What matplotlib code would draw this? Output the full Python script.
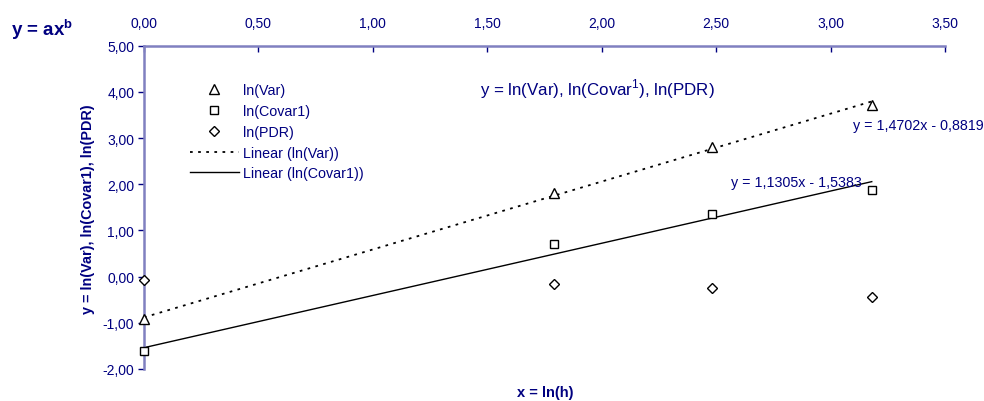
import matplotlib
matplotlib.use("Agg")
import matplotlib.pyplot as plt
from matplotlib.ticker import FuncFormatter, MultipleLocator
import numpy as np

plt.rcParams['font.family'] = ['Liberation Sans', 'DejaVu Sans']
plt.rcParams['mathtext.fontset'] = 'custom'
plt.rcParams['mathtext.rm'] = 'Liberation Sans'
plt.rcParams['mathtext.bf'] = 'Liberation Sans:bold'

# x = ln(h), h = 1, 6, 12, 24
x = [0.00, 1.79, 2.48, 3.18]
ln_var = [-0.91, 1.80, 2.80, 3.71]
ln_covar1 = [-1.62, 0.70, 1.35, 1.88]
ln_pdr = [-0.08, -0.17, -0.25, -0.45]

# trendline coefficients (slope, intercept)
fit_var = (1.4702, -0.8819)
fit_covar1 = (1.1305, -1.5383)

navy = '#000080'
axis_col = '#8080c0'

fig = plt.figure(figsize=(9.84, 4.02), dpi=100)
ax = fig.add_axes([144/984, 1 - 370/402, (945 - 144)/984, (370 - 46.7)/402])

xs = np.array([x[0], x[-1]])
ax.plot(xs, fit_var[0]*xs + fit_var[1], color='black', lw=1.3, ls=(0, (1.5, 3)),
        label='Linear (ln(Var))')
ax.plot(xs, fit_covar1[0]*xs + fit_covar1[1], color='black', lw=1.0,
        label='Linear (ln(Covar1))')
ax.plot(x, ln_var, ls='none', marker='^', ms=6.5, mfc='white', mec='black', mew=1.0,
        label='ln(Var)', clip_on=False, zorder=5)
ax.plot(x, ln_covar1, ls='none', marker='s', ms=6, mfc='white', mec='black', mew=1.0,
        label='ln(Covar1)', clip_on=False, zorder=5)
ax.plot(x, ln_pdr, ls='none', marker='D', ms=5, mfc='white', mec='black', mew=1.0,
        label='ln(PDR)', clip_on=False, zorder=5)

ax.set_xlim(0, 3.5)
ax.set_ylim(-2, 5)
ax.xaxis.set_major_locator(MultipleLocator(0.5))
ax.yaxis.set_major_locator(MultipleLocator(1))
fmt = FuncFormatter(lambda v, p: f"{v:.2f}".replace('.', ','))
ax.xaxis.set_major_formatter(fmt)
ax.yaxis.set_major_formatter(fmt)

ax.xaxis.tick_top()
for s in ['right', 'bottom']:
    ax.spines[s].set_visible(False)
for s in ['top', 'left']:
    ax.spines[s].set_color(axis_col)
    ax.spines[s].set_linewidth(1.8)
ax.tick_params(axis='x', direction='in', length=4, width=1, color=navy,
               labelcolor=navy, labelsize=10, pad=11)
ax.tick_params(axis='y', direction='out', length=4, width=1, color=navy,
               labelcolor=navy, labelsize=10, pad=3)

fig.text(11/984, 1 - 30/402, r'y = ax$^{\mathbf{b}}$', color=navy, fontsize=13.5,
         fontweight='bold', va='center', ha='left')
fig.text(545/984, 1 - 393/402, 'x = ln(h)', color=navy, fontsize=10.5,
         fontweight='bold', ha='center', va='center')
fig.text(88/984, 1 - 209/402, 'y = ln(Var), ln(Covar1), ln(PDR)', color=navy,
         fontsize=10.4, fontweight='bold', rotation=90, ha='center', va='center')
fig.text(597/984, 1 - 89/402, r'y = ln(Var), ln(Covar$^1$), ln(PDR)', color=navy,
         fontsize=12.2, ha='center', va='center')

fig.text(853/984, 1 - 126/402, 'y = 1,4702x - 0,8819', color=navy, fontsize=10.3,
         ha='left', va='center')
fig.text(731/984, 1 - 183/402, 'y = 1,1305x - 1,5383', color=navy, fontsize=10.3,
         ha='left', va='center')

handles, labels = ax.get_legend_handles_labels()
order = [2, 3, 4, 0, 1]
leg = fig.legend([handles[i] for i in order], [labels[i] for i in order],
                 loc='upper left', bbox_to_anchor=(190/984, 1 - 84/402),
                 frameon=False, fontsize=10.3, handlelength=3.4, handletextpad=0.3,
                 labelspacing=0.48, borderpad=0, borderaxespad=0)
for t in leg.get_texts():
    t.set_color(navy)

fig.savefig('out.png', dpi=100)
